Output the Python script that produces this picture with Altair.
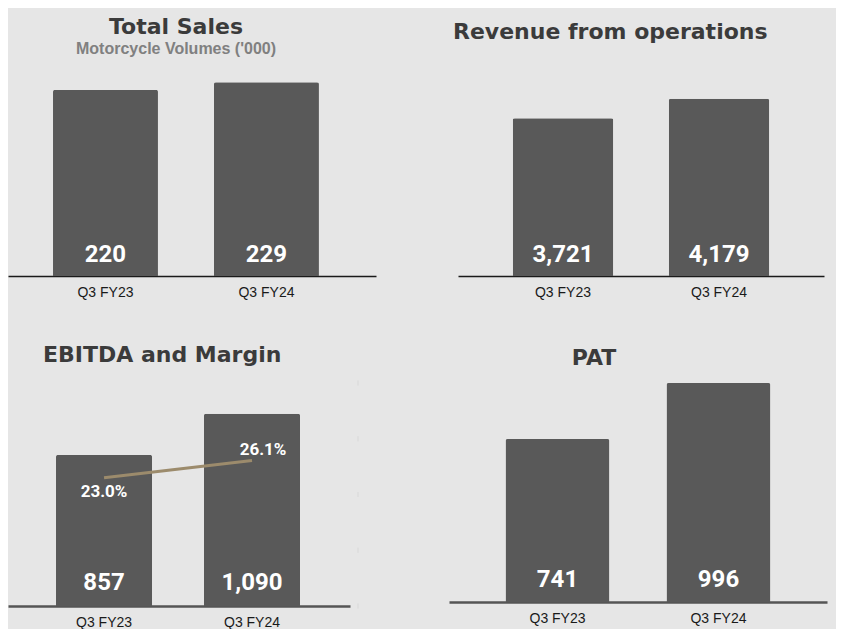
import altair as alt
import pandas as pd

periods = ["Q3 FY23", "Q3 FY24"]
sales = [220, 229]
revenue = [3721, 4179]
ebitda = [857, 1090]
margin = [23.0, 26.1]
pat = [741, 996]
margin_ticks = [0, 10, 20, 30, 40]

BG = "#e6e6e6"
BAR = "#595959"
TITLE_COLOR = "#3b3b3b"


def frame(values):
    return pd.DataFrame({
        "period": periods,
        "value": values,
        "label": [f"{v:,}" for v in values],
    })


def bar_layers(values, ymax, pi, po, align, dom_color, dom_width, label_dy, xrange=None):
    sc = dict(paddingInner=pi, paddingOuter=po, align=align)
    if xrange is not None:
        sc["range"] = xrange
    base = alt.Chart(frame(values)).encode(
        x=alt.X("period:N", sort=periods,
                scale=alt.Scale(**sc),
                axis=alt.Axis(title=None, ticks=False, labelAngle=0,
                              labelFont="Liberation Sans", labelFontSize=14,
                              labelColor="#1a1a1a", labelPadding=9,
                              domainColor=dom_color, domainWidth=dom_width)),
    )
    bars = base.mark_bar(color=BAR, cornerRadiusTopLeft=2, cornerRadiusTopRight=2).encode(
        y=alt.Y("value:Q", scale=alt.Scale(domain=[0, ymax], nice=False), axis=None)
    )
    txt = base.mark_text(color="white", font="Roboto", fontWeight="bold", fontSize=24,
                         baseline="alphabetic", dy=-label_dy).encode(
        y=alt.datum(0), text="label:N"
    )
    return alt.layer(bars, txt)


def title(text, anchor, dx, offset, subtitle=None):
    kw = dict(text=text, anchor=anchor, dx=dx, offset=offset, font="DejaVu Sans",
              fontSize=22, fontWeight="bold", color=TITLE_COLOR)
    if subtitle:
        kw.update(subtitle=subtitle, subtitleFont="Liberation Sans", subtitleFontSize=16,
                  subtitleFontWeight="bold", subtitleColor="#808080", subtitlePadding=2)
    return alt.TitleParams(**kw)


p1 = bar_layers(sales, 243.5, 0.348, 0.317, 0.441, "#1a1a1a", 1.3, 14).properties(
    width=368, height=206,
    title=title("Total Sales", "middle", -16, 12, "Motorcycle Volumes ('000)"))

p2 = bar_layers(revenue, 4858, 0.356, 0.351, 0.5, "#1a1a1a", 1.3, 14,
                xrange=[9, 375]).properties(
    width=375, height=206,
    title=title("Revenue from operations", "start", 4, 26))

# EBITDA with margin line on secondary scale
e_bars = bar_layers(ebitda, 1265, 0.351, 0.331, 0.49, "#555555", 2.5, 16)
mdf = pd.DataFrame({"period": periods, "margin": margin,
                    "mlabel": [f"{m:.1f}%" for m in margin]})
mscale = alt.Scale(domain=[0, 40], nice=False)
mbase = alt.Chart(mdf).encode(
    x=alt.X("period:N", sort=periods),
    y=alt.Y("margin:Q", scale=mscale, axis=None),
)
mline = mbase.mark_line(color="#9c8b6c", strokeWidth=3)
mt1 = mbase.transform_filter(alt.datum.period == periods[0]).mark_text(
    color="white", font="Roboto", fontWeight="bold", fontSize=17, dy=14
).encode(text="mlabel:N")
mt2 = mbase.transform_filter(alt.datum.period == periods[1]).mark_text(
    color="white", font="Roboto", fontWeight="bold", fontSize=17, dx=11, dy=-10
).encode(text="mlabel:N")
ticks = alt.Chart(pd.DataFrame({"tick": margin_ticks})).mark_tick(
    orient="vertical", color="#d2d2d2", thickness=1, size=5
).encode(x=alt.value(350), y=alt.Y("tick:Q", scale=mscale, axis=None))
m_layer = alt.layer(mline, mt1, mt2, ticks)

p3 = alt.layer(e_bars, m_layer).resolve_scale(y="independent").properties(
    width=342, height=223,
    title=title("EBITDA and Margin", "start", 35, 14))

p4 = bar_layers(pat, 996, 0.354, 0.351, 0.5, "#555555", 2.5, 15).properties(
    width=378, height=219,
    title=title("PAT", "middle", -44, 13))

chart = alt.concat(p1, p2, p3, p4, columns=2, bounds="flush",
                   spacing={"row": 107, "column": 73}).properties(
    background=BG,
    padding={"left": 0, "top": 8, "right": 9, "bottom": 0},
).configure_view(stroke=None)

chart.save("out.html", embed_options={"renderer": "svg", "actions": False})
